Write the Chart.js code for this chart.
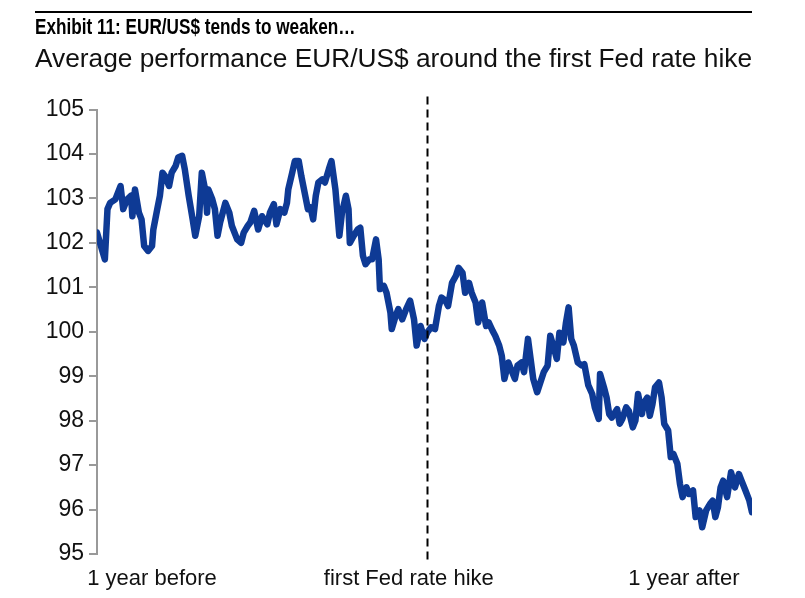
<!DOCTYPE html>
<html>
<head>
<meta charset="utf-8">
<title>EUR/US$ around the first Fed rate hike</title>
<script src="https://cdn.jsdelivr.net/npm/chart.js"></script>
<style>
  body { margin: 0; background: #fff; }
</style>
</head>
<body>
<canvas id="fxChart" width="805" height="598"></canvas>
<script>
// trading days relative to the first Fed hike, and the average EUR/US$ index
const days = [
  -252,-249,-246,-244,-242,-238,-234,-232,-229,-226,-225,-223,-220,-218,-216,-213,-210,-209,-206,-204,
  -202,-200,-197,-195,-192,-190,-187,-185,-182,-179,-177,-174,-172,-169,-168,-167,-164,-162,-160,-158,
  -154,-151,-149,-145,-142,-140,-137,-135,-132,-129,-126,-122,-120,-117,-115,-112,-109,-107,-106,-103,
  -101,-98,-96,-93,-91,-89,-87,-85,-83,-80,-78,-75,-73,-70,-67,-65,-62,-60,-59,-56,
  -53,-51,-49,-47,-44,-42,-39,-37,-36,-33,-31,-28,-27,-24,-22,-19,-16,-13,-10,-8,
  -5,-2,0,3,6,9,11,14,16,19,22,24,27,29,32,34,37,39,42,45,
  47,50,52,55,57,59,62,64,67,69,72,74,77,79,81,84,86,89,92,94,
  97,99,101,104,106,108,110,112,115,118,120,123,126,128,131,132,135,137,139,141,
  145,147,149,152,154,157,159,161,164,165,168,170,172,174,177,179,181,184,186,188,
  191,193,195,198,200,203,205,208,210,213,216,218,220,222,224,226,229,232,235,238,
  240,243,246,248
];
const eurusd = [
  102.23,101.93,101.63,102.76,102.90,102.98,103.28,102.76,102.98,103.06,102.60,103.20,102.68,102.53,101.93,101.82,101.93,102.30,102.76,103.06,
  103.58,103.50,103.28,103.58,103.73,103.92,103.96,103.66,103.06,102.53,102.16,102.60,103.58,103.13,102.68,103.20,102.98,102.76,102.16,102.46,
  102.90,102.68,102.38,102.08,102.00,102.23,102.38,102.46,102.72,102.30,102.60,102.42,102.68,102.87,102.42,102.76,102.68,102.90,103.20,103.58,
  103.84,103.84,103.50,103.06,102.76,102.80,102.53,103.06,103.36,103.43,103.36,103.66,103.84,103.20,102.16,102.68,103.06,102.76,102.00,102.16,
  102.30,102.34,101.71,101.52,101.63,101.63,102.08,101.63,100.96,101.03,100.88,100.43,100.06,100.36,100.51,100.28,100.51,100.70,100.28,99.69,
  100.13,99.84,99.98,100.10,100.06,100.58,100.77,100.70,100.58,101.10,101.26,101.44,101.33,100.88,101.10,100.88,100.66,100.21,100.66,100.13,
  100.21,100.02,99.91,99.69,99.46,98.94,99.31,99.16,98.94,99.24,99.31,99.09,99.84,99.39,98.94,98.64,98.82,99.09,99.24,99.91,
  99.61,99.39,99.98,99.76,100.21,100.55,99.84,99.69,99.31,99.24,99.27,98.80,98.60,98.30,98.04,99.05,98.75,98.52,98.15,98.07,
  98.26,97.93,98.04,98.30,98.22,97.85,98.00,98.60,98.15,98.37,98.52,98.11,98.37,98.75,98.86,98.52,97.93,97.78,97.18,97.25,
  97.03,96.58,96.28,96.50,96.35,96.43,95.83,95.98,95.60,95.98,96.13,96.20,95.83,96.05,96.50,96.65,96.28,96.84,96.50,96.80,
  96.65,96.43,96.20,95.94
];
const hikeDay = 0;
const xTickDays = [-210, -14, 196];
const xTickLabels = ['1 year before', 'first Fed rate hike', '1 year after'];
const titleText = 'Exhibit 11: EUR/US$ tends to weaken\u2026';

// rule, condensed bold headline and the dashed marker at the hike
const decor = {
  id: 'decor',
  beforeDraw(chart) {
    const ctx = chart.ctx;
    const left = chart.options.layout.padding.left, right = chart.chartArea.right;
    ctx.save();
    ctx.strokeStyle = '#000';
    ctx.lineWidth = 2;
    ctx.beginPath();
    ctx.moveTo(left, 12);
    ctx.lineTo(right, 12);
    ctx.stroke();
    ctx.fillStyle = '#000';
    ctx.font = "bold 22px 'Liberation Sans', Arial, sans-serif";
    ctx.textBaseline = 'alphabetic';
    ctx.translate(left, 34);
    ctx.scale(0.78, 1);
    ctx.fillText(titleText, 0, 0);
    ctx.restore();
  },
  afterDatasetsDraw(chart) {
    const ctx = chart.ctx, a = chart.chartArea;
    const x = Math.round(chart.scales.x.getPixelForValue(hikeDay)) + 0.5;
    ctx.save();
    ctx.strokeStyle = '#000';
    ctx.lineWidth = 2;
    ctx.setLineDash([8, 5]);
    ctx.beginPath();
    ctx.moveTo(x, a.top - 13);
    ctx.lineTo(x, a.bottom + 10);
    ctx.stroke();
    ctx.restore();
  }
};

const ctx = document.getElementById('fxChart').getContext('2d');
new Chart(ctx, {
  type: 'line',
  data: {
    datasets: [{
      label: 'EUR/US$',
      data: days.map((d, i) => ({ x: d, y: eurusd[i] })),
      borderColor: '#0E3A95',
      borderWidth: 6.5,
      borderJoinStyle: 'round',
      borderCapStyle: 'round',
      pointRadius: 0,
      tension: 0,
      fill: false
    }]
  },
  plugins: [decor],
  options: {
    responsive: false,
    animation: false,
    layout: { padding: { left: 35, right: 53, top: 0, bottom: 0 } },
    plugins: {
      legend: { display: false },
      tooltip: { enabled: false },
      title: { display: false },
      subtitle: {
        display: true,
        text: 'Average performance EUR/US$ around the first Fed rate hike',
        align: 'start',
        color: '#111',
        font: { family: "'Liberation Sans', Arial, sans-serif", size: 26.3 },
        padding: { top: 44, bottom: 34 }
      }
    },
    scales: {
      x: {
        type: 'linear',
        min: days[0],
        max: days[days.length - 1],
        afterBuildTicks: s => { s.ticks = xTickDays.map(v => ({ value: v })); },
        afterFit: s => { s.height = 44; },
        ticks: {
          autoSkip: false,
          maxRotation: 0,
          padding: 4,
          color: '#111',
          font: { family: "'Liberation Sans', Arial, sans-serif", size: 22 },
          callback: v => xTickLabels[xTickDays.indexOf(v)]
        },
        grid: { display: false },
        border: { display: false }
      },
      y: {
        min: 95,
        max: 105,
        afterFit: s => { s.width = 62; },
        ticks: {
          stepSize: 1,
          padding: 5,
          color: '#111',
          font: { family: "'Liberation Sans', Arial, sans-serif", size: 23 }
        },
        grid: { drawOnChartArea: false, drawTicks: true, tickLength: 8, color: '#999', lineWidth: 2 },
        border: { display: true, color: '#999', width: 2 }
      }
    }
  }
});
</script>
</body>
</html>
